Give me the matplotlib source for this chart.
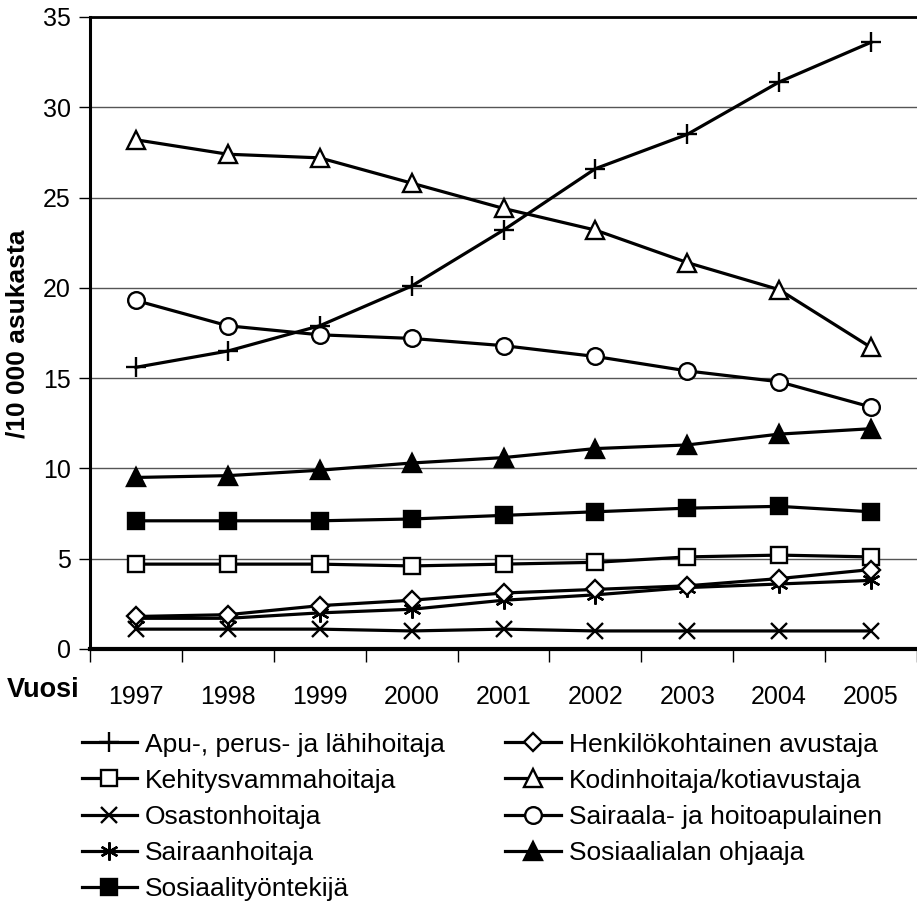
import matplotlib
matplotlib.use('Agg')
import matplotlib.pyplot as plt
from matplotlib.ticker import FixedLocator

plt.rcParams['font.family'] = ['Liberation Sans', 'DejaVu Sans']

# vuodet ja sarjat (/10 000 asukasta)
years = ['1997', '1998', '1999', '2000', '2001', '2002', '2003', '2004', '2005']
apu = [15.6, 16.5, 17.9, 20.1, 23.2, 26.6, 28.5, 31.4, 33.6]
henkilo = [1.8, 1.9, 2.4, 2.7, 3.1, 3.3, 3.5, 3.9, 4.4]
kehitys = [4.7, 4.7, 4.7, 4.6, 4.7, 4.8, 5.1, 5.2, 5.1]
kodin = [28.2, 27.4, 27.2, 25.8, 24.4, 23.2, 21.4, 19.9, 16.7]
osaston = [1.1, 1.1, 1.1, 1.0, 1.1, 1.0, 1.0, 1.0, 1.0]
sairaala = [19.3, 17.9, 17.4, 17.2, 16.8, 16.2, 15.4, 14.8, 13.4]
sairaan = [1.7, 1.7, 2.0, 2.2, 2.7, 3.0, 3.4, 3.6, 3.8]
ohjaaja = [9.5, 9.6, 9.9, 10.3, 10.6, 11.1, 11.3, 11.9, 12.2]
sostyo = [7.1, 7.1, 7.1, 7.2, 7.4, 7.6, 7.8, 7.9, 7.6]

fig = plt.figure(figsize=(9.17, 9.10), dpi=100)
ax = fig.add_axes([90/917, 1-649/910, 1-90/917, (649-17)/910])

x = list(range(len(years)))
lw = 2.3
mew = 1.7
series = [
    (apu, 'Apu-, perus- ja lähihoitaja', dict(marker='+', ms=15, mew=mew)),
    (kehitys, 'Kehitysvammahoitaja', dict(marker='s', ms=11, mfc='white', mew=mew)),
    (osaston, 'Osastonhoitaja', dict(marker='x', ms=12, mew=mew)),
    (sairaan, 'Sairaanhoitaja', dict(marker=(6, 2, 0), ms=13, mew=mew)),
    (sostyo, 'Sosiaalityöntekijä', dict(marker='s', ms=11, mfc='black', mew=mew)),
    (henkilo, 'Henkilökohtainen avustaja', dict(marker='D', ms=9, mfc='white', mew=mew)),
    (kodin, 'Kodinhoitaja/kotiavustaja', dict(marker='^', ms=13, mfc='white', mew=mew)),
    (sairaala, 'Sairaala- ja hoitoapulainen', dict(marker='o', ms=12, mfc='white', mew=mew)),
    (ohjaaja, 'Sosiaalialan ohjaaja', dict(marker='^', ms=13, mfc='black', mew=mew)),
]
for vals, name, st in series:
    ax.plot(x, vals, color='black', mec='black', lw=lw, label=name, clip_on=False, **st)

ax.set_xlim(-0.5, 8.5)
ax.set_ylim(0, 35)
ax.set_yticks(range(0, 36, 5))
ax.yaxis.grid(True, color='#555555', lw=1)
ax.set_axisbelow(True)
ax.set_xticks(x)
ax.set_xticklabels(years)
ax.xaxis.set_minor_locator(FixedLocator([i - 0.5 for i in range(len(years) + 1)]))
ax.tick_params(axis='x', which='major', length=0, pad=26, labelsize=18)
ax.tick_params(axis='x', which='minor', length=9, width=1, direction='out')
ax.tick_params(axis='y', length=8, width=1, direction='out', pad=6, labelsize=18)

ax.spines['right'].set_visible(False)
ax.spines['left'].set_linewidth(2.2)
ax.spines['bottom'].set_linewidth(3)
ax.spines['top'].set_linewidth(2)

fig.text(18/917, 1-334/910, '/10 000 asukasta', rotation=90, ha='center', va='center',
         fontsize=19, fontweight='bold')
fig.text(7/917, 1-690/910, 'Vuosi', ha='left', va='center', fontsize=19.5, fontweight='bold')

fig.legend(loc='upper left', bbox_to_anchor=(71/917, 1-722/910), ncol=2, frameon=False,
           fontsize=19, handlelength=2.1, handletextpad=0.3, columnspacing=2.3,
           labelspacing=0.46, borderaxespad=0)

fig.savefig('out.png', dpi=100)
